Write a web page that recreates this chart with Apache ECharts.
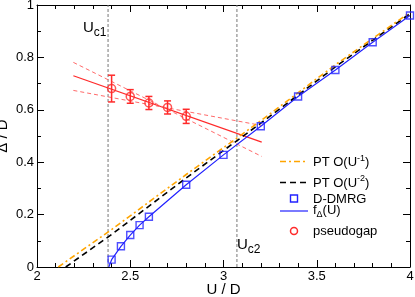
<!DOCTYPE html>
<html>
<head>
<meta charset="utf-8">
<script src="https://cdn.jsdelivr.net/npm/echarts@6/dist/echarts.min.js"></script>
<style>html,body{margin:0;padding:0;background:#fff}#c{width:415px;height:297px}</style>
</head>
<body>
<div id="c"></div>
<script>
// ---- data ----
const U_DMRG   = [2.4, 2.45, 2.5, 2.55, 2.6, 2.8, 3.0, 3.2, 3.4, 3.6, 3.8, 4.0];
const GAP_DMRG = [0.028, 0.079, 0.122, 0.160, 0.192, 0.314, 0.428, 0.537, 0.651, 0.752, 0.858, 0.960];
const U_FDELTA   = [2.385, 2.4, 2.45, 2.5, 2.55, 2.6, 2.8, 3.0, 3.2, 3.4, 3.6, 3.8, 4.0];
const GAP_FDELTA = [0.0, 0.028, 0.079, 0.122, 0.160, 0.192, 0.314, 0.428, 0.537, 0.651, 0.752, 0.858, 0.960];
const U_PT1   = [2.114, 2.4, 2.8, 3.2, 3.6, 4.0];
const GAP_PT1 = [0.0, 0.143, 0.353, 0.558, 0.772, 0.972];
const U_PT2   = [2.154, 2.4, 2.8, 3.2, 3.6, 4.0];
const GAP_PT2 = [0.0, 0.124, 0.340, 0.549, 0.764, 0.967];
const U_PSEUDO   = [2.4, 2.5, 2.6, 2.7, 2.8];
const GAP_PSEUDO = [0.681, 0.651, 0.626, 0.609, 0.575];
const ERR_PSEUDO = [0.051, 0.026, 0.025, 0.025, 0.027];
const U_LINFIT    = [2.195, 3.205];
const GAP_LINFIT  = [0.730, 0.477];
const GAP_LINFIT_A = [0.781, 0.422];
const GAP_LINFIT_B = [0.674, 0.540];
const U_CRIT = [2.381, 3.072];
const X_TICKS = [2, 2.5, 3, 3.5, 4];
const Y_TICKS = [0, 0.2, 0.4, 0.6, 0.8, 1];

const FONT = 'Liberation Sans, Arial, Helvetica, sans-serif';
const RED = '#ff2a2a', RED_L = '#ff6a6a', BLUE = '#2222ff', ORANGE = '#ffa500', GRAY = '#777777';
const zip = (a, b) => a.map((v, i) => [v, b[i]]);

// text measuring for composed (sub/superscript) labels
const mctx = document.createElement('canvas').getContext('2d');
function tw(t, size) { mctx.font = size + 'px ' + FONT; return mctx.measureText(t).width; }
// pieces: [text, size, dy]
function composed(x, y, pieces) {
  const out = [];
  let cx = x;
  pieces.forEach(p => {
    out.push({type: 'text', x: cx, y: y + p[2],
      style: {text: p[0], fontSize: p[1], fontFamily: FONT, fill: '#000', verticalAlign: 'middle'}});
    cx += tw(p[0], p[1]);
  });
  return out;
}

const chart = echarts.init(document.getElementById('c'), null, {renderer: 'canvas'});

function axisX(pos, labels) {
  return {
    type: 'value', position: pos, min: X_TICKS[0], max: X_TICKS[X_TICKS.length - 1],
    interval: X_TICKS[1] - X_TICKS[0],
    axisLine: {show: true, onZero: false, lineStyle: {color: '#000', width: 1}},
    axisTick: {show: true, inside: true, length: 7, lineStyle: {color: '#000'}},
    minorTick: {show: true, splitNumber: 5, length: 4, lineStyle: {color: '#000'}},
    splitLine: {show: false},
    axisLabel: {show: labels, color: '#000', fontSize: 13, fontFamily: FONT, margin: 3},
    name: labels ? 'U / D' : '', nameLocation: 'middle', nameGap: 15, nameMoveOverlap: false,
    nameTextStyle: {color: '#000', fontSize: 15, fontFamily: FONT}
  };
}
function axisY(pos, labels) {
  return {
    type: 'value', position: pos, min: Y_TICKS[0], max: Y_TICKS[Y_TICKS.length - 1],
    interval: Y_TICKS[1] - Y_TICKS[0],
    axisLine: {show: true, onZero: false, lineStyle: {color: '#000', width: 1}},
    axisTick: {show: true, inside: true, length: 7, lineStyle: {color: '#000'}},
    minorTick: {show: true, splitNumber: 2, length: 4, lineStyle: {color: '#000'}},
    splitLine: {show: false},
    axisLabel: {show: labels, color: '#000', fontSize: 13, fontFamily: FONT, margin: 3},
    name: labels ? 'Δ / D' : '', nameLocation: 'middle', nameGap: 27, nameMoveOverlap: false,
    nameTextStyle: {color: '#000', fontSize: 15, fontFamily: FONT, padding: [0, 0, 0, 0]}
  };
}

const legendAndNotes = [
  // critical-U annotations
  ...composed(83, 28, [['U', 15, 0], ['c1', 12, 5]]),
  ...composed(237, 245, [['U', 15, 0], ['c2', 12, 5]]),
  // legend icons
  {type: 'line', shape: {x1: 280, y1: 161.5, x2: 308, y2: 161.5}, style: {stroke: ORANGE, lineWidth: 1.6, lineDash: [6, 3, 2, 3]}},
  {type: 'line', shape: {x1: 280, y1: 182.5, x2: 308, y2: 182.5}, style: {stroke: '#000', lineWidth: 1.6, lineDash: [6, 4]}},
  {type: 'rect', shape: {x: 290.5, y: 195, width: 7, height: 7}, style: {fill: 'none', stroke: BLUE, lineWidth: 1.4}},
  {type: 'line', shape: {x1: 280, y1: 211, x2: 308, y2: 211}, style: {stroke: BLUE, lineWidth: 1.2}},
  {type: 'circle', shape: {cx: 294, cy: 231, r: 3.5}, style: {fill: 'none', stroke: RED, lineWidth: 1.5}},
  // legend texts
  ...composed(313, 162.5, [['PT O(U', 13, 0], ['-1', 9, -4], [')', 13, 0]]),
  ...composed(313, 183, [['PT O(U', 13, 0], ['-2', 9, -4], [')', 13, 0]]),
  ...composed(313, 199, [['D-DMRG', 13, 0]]),
  ...composed(313, 210, [['f', 13, 0], ['Δ', 9, 5], ['(U)', 13, 0]]),
  ...composed(313, 231, [['pseudogap', 13, 0]])
];

const option = {
  animation: false,
  backgroundColor: '#fff',
  grid: {left: 37, right: 5, top: 5, bottom: 30, containLabel: false, outerBoundsMode: 'none'},
  xAxis: [axisX('bottom', true), axisX('top', false)],
  yAxis: [axisY('left', true), axisY('right', false)],
  series: [
    {name: 'Uc1', type: 'line', symbol: 'none', data: [[U_CRIT[0], 0], [U_CRIT[0], 1]],
     lineStyle: {color: GRAY, width: 1, type: [3, 2]}, z: 1},
    {name: 'Uc2', type: 'line', symbol: 'none', data: [[U_CRIT[1], 0], [U_CRIT[1], 1]],
     lineStyle: {color: GRAY, width: 1, type: [3, 2]}, z: 1},
    {name: 'fit', type: 'line', symbol: 'none', data: zip(U_LINFIT, GAP_LINFIT),
     lineStyle: {color: RED, width: 1.3}, z: 2},
    {name: 'fitA', type: 'line', symbol: 'none', data: zip(U_LINFIT, GAP_LINFIT_A),
     lineStyle: {color: RED_L, width: 1, type: [4, 3]}, z: 2},
    {name: 'fitB', type: 'line', symbol: 'none', data: zip(U_LINFIT, GAP_LINFIT_B),
     lineStyle: {color: RED_L, width: 1, type: [4, 3]}, z: 2},
    {name: 'f_Δ(U)', type: 'line', symbol: 'none', data: zip(U_FDELTA, GAP_FDELTA),
     lineStyle: {color: BLUE, width: 1.2}, z: 3},
    {name: 'PT O(U^-2)', type: 'line', symbol: 'none', data: zip(U_PT2, GAP_PT2),
     lineStyle: {color: '#000', width: 1.6, type: [6, 4]}, z: 4},
    {name: 'PT O(U^-1)', type: 'line', symbol: 'none', data: zip(U_PT1, GAP_PT1),
     lineStyle: {color: ORANGE, width: 1.6, type: [6, 3, 2, 3]}, z: 4},
    {name: 'D-DMRG', type: 'scatter', symbol: 'rect', symbolSize: 7, data: zip(U_DMRG, GAP_DMRG),
     itemStyle: {color: 'rgba(0,0,0,0)', borderColor: BLUE, borderWidth: 1.4}, z: 5},
    {name: 'errors', type: 'custom', z: 5,
     data: U_PSEUDO.map((u, i) => [u, GAP_PSEUDO[i], ERR_PSEUDO[i]]),
     renderItem: function (params, api) {
       const x = api.value(0), y = api.value(1), e = api.value(2);
       const t = api.coord([x, y + e]), b = api.coord([x, y - e]);
       const w = 3.5, st = {stroke: RED, lineWidth: 1.5};
       return {type: 'group', children: [
         {type: 'line', shape: {x1: t[0], y1: t[1], x2: b[0], y2: b[1]}, style: st},
         {type: 'line', shape: {x1: t[0] - w, y1: t[1], x2: t[0] + w, y2: t[1]}, style: st},
         {type: 'line', shape: {x1: b[0] - w, y1: b[1], x2: b[0] + w, y2: b[1]}, style: st}
       ]};
     }},
    {name: 'pseudogap', type: 'scatter', symbol: 'circle', symbolSize: 8, data: zip(U_PSEUDO, GAP_PSEUDO),
     itemStyle: {color: 'rgba(0,0,0,0)', borderColor: RED, borderWidth: 1.5}, z: 6}
  ],
  graphic: legendAndNotes
};
chart.setOption(option);
</script>
</body>
</html>
